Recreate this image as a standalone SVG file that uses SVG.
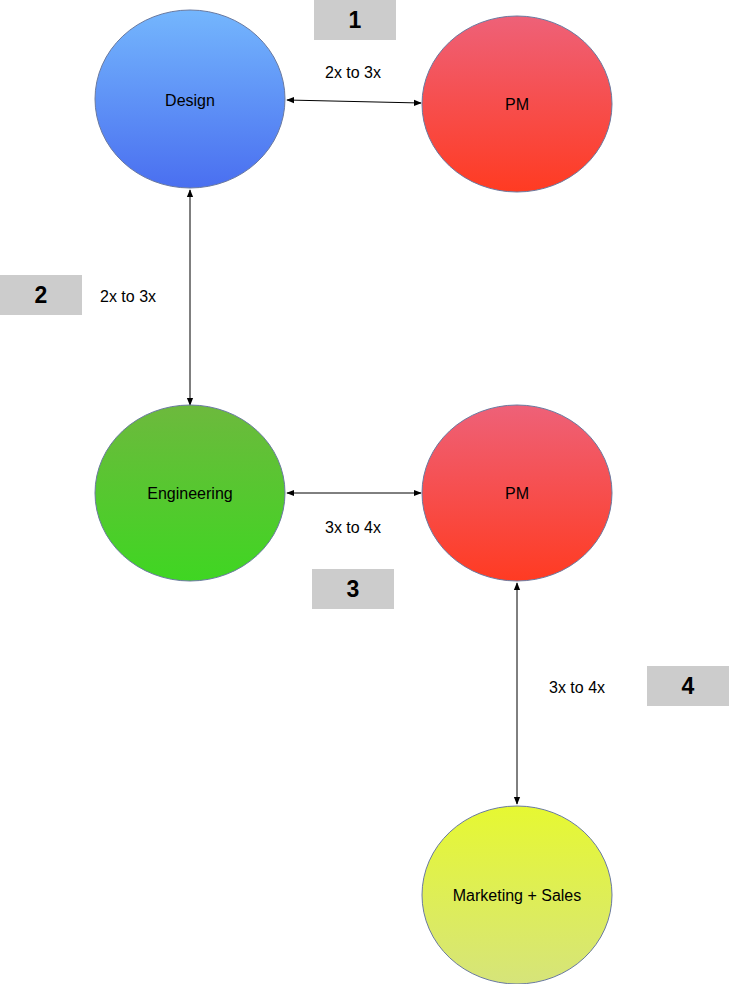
<svg xmlns="http://www.w3.org/2000/svg" width="729" height="984" viewBox="0 0 729 984">
<style>
.lbl{font-family:"Liberation Sans",Arial,sans-serif;font-size:16px;fill:#000}
.num{font-family:"Liberation Sans",Arial,sans-serif;font-size:23px;font-weight:bold;fill:#000;text-anchor:middle}
.box{fill:#cccccc}
.node{stroke:#6a7aa0;stroke-width:1}
.conn{stroke:#000;stroke-width:1;fill:none;marker-start:url(#ah);marker-end:url(#ah)}
</style>
<defs>
<marker id="ah" viewBox="0 0 10 10" refX="9" refY="5" markerWidth="8" markerHeight="8" orient="auto-start-reverse" markerUnits="userSpaceOnUse"><path d="M0,1 L10,5 L0,9 Z" fill="#000"/></marker>
<linearGradient id="gBlue" x1="0" y1="0" x2="0" y2="1"><stop offset="0" stop-color="#74b6fd"/><stop offset="1" stop-color="#4a6ff0"/></linearGradient>
<linearGradient id="gRed" x1="0" y1="0" x2="0" y2="1"><stop offset="0" stop-color="#ee6178"/><stop offset="1" stop-color="#ff3b22"/></linearGradient>
<linearGradient id="gGreen" x1="0" y1="0" x2="0" y2="1"><stop offset="0" stop-color="#6db93d"/><stop offset="1" stop-color="#3fd622"/></linearGradient>
<linearGradient id="gYellow" x1="0" y1="0" x2="0" y2="1"><stop offset="0" stop-color="#e6f832"/><stop offset="1" stop-color="#d6e47a"/></linearGradient>
</defs>
<rect width="729" height="984" fill="#fff"/>
<g id="connectors">
<line class="conn" x1="287" y1="100" x2="421" y2="103"/>
<line class="conn" x1="190" y1="190" x2="190" y2="405"/>
<line class="conn" x1="287" y1="493" x2="421" y2="493"/>
<line class="conn" x1="517" y1="583" x2="517" y2="804"/>
</g>
<g id="design"><ellipse class="node" cx="190" cy="99" rx="95" ry="89" fill="url(#gBlue)"/><text class="lbl" x="190" y="106" text-anchor="middle">Design</text></g>
<g id="pm1"><ellipse class="node" cx="517" cy="104" rx="95" ry="88" fill="url(#gRed)"/><text class="lbl" x="517" y="110" text-anchor="middle">PM</text></g>
<g id="engineering"><ellipse class="node" cx="190" cy="493" rx="95" ry="88" fill="url(#gGreen)"/><text class="lbl" x="190" y="499" text-anchor="middle">Engineering</text></g>
<g id="pm2"><ellipse class="node" cx="517" cy="493" rx="95" ry="88" fill="url(#gRed)"/><text class="lbl" x="517" y="499" text-anchor="middle">PM</text></g>
<g id="marketing"><ellipse class="node" cx="517" cy="895" rx="95" ry="89" fill="url(#gYellow)"/><text class="lbl" x="517" y="901" text-anchor="middle">Marketing + Sales</text></g>
<g id="labels">
<text class="lbl" x="353" y="78" text-anchor="middle">2x to 3x</text>
<text class="lbl" x="100" y="302">2x to 3x</text>
<text class="lbl" x="353" y="533" text-anchor="middle">3x to 4x</text>
<text class="lbl" x="549" y="693">3x to 4x</text>
</g>
<g id="badge1"><rect class="box" x="314" y="0" width="82" height="40"/><text class="num" x="355" y="28">1</text></g>
<g id="badge2"><rect class="box" x="0" y="275" width="82" height="40"/><text class="num" x="41" y="303">2</text></g>
<g id="badge3"><rect class="box" x="312" y="569" width="82" height="40"/><text class="num" x="353" y="597">3</text></g>
<g id="badge4"><rect class="box" x="647" y="666" width="82" height="40"/><text class="num" x="688" y="694">4</text></g>
</svg>
